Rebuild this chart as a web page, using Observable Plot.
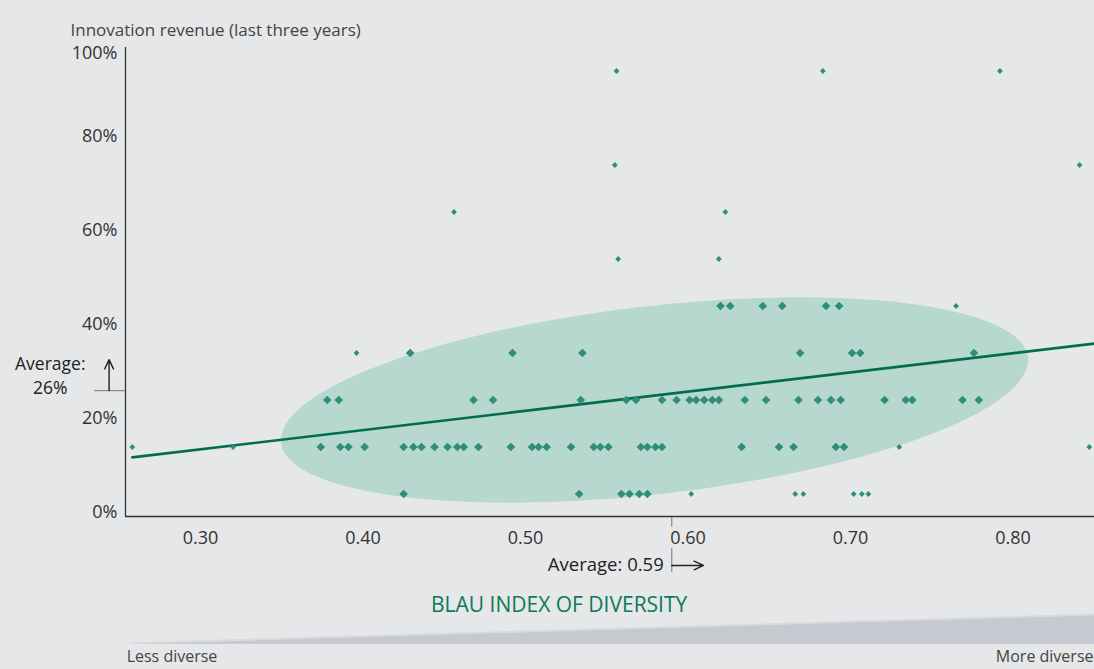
<!DOCTYPE html>
<html>
<head>
<meta charset="utf-8">
<script src="https://cdn.jsdelivr.net/npm/d3@7"></script>
<script src="https://cdn.jsdelivr.net/npm/@observablehq/plot@0.6"></script>
<style>
  html, body { margin: 0; padding: 0; background: #e6e7e9; }
  #chart svg { display: block; }
</style>
</head>
<body>
<div id="chart"></div>
<script>
// ---- data ----
const title = "Innovation revenue (last three years)";
const xLabel = "BLAU INDEX OF DIVERSITY";
const xTicks = [0.30, 0.40, 0.50, 0.60, 0.70, 0.80];
const yTicks = [0, 20, 40, 60, 80, 100];
const xDomain = [0.2538, 0.8502];

// large diamonds (inside the highlighted cluster), one array per revenue level
const large05 = [0.425, 0.533, 0.559, 0.564, 0.570, 0.575];
const large15 = [0.374, 0.386, 0.391, 0.401, 0.425, 0.431, 0.436, 0.444, 0.452, 0.458, 0.462, 0.471,
                 0.491, 0.504, 0.508, 0.513, 0.528, 0.542, 0.546, 0.551, 0.571, 0.575, 0.580, 0.584,
                 0.633, 0.656, 0.665, 0.691, 0.696];
const large25 = [0.378, 0.385, 0.468, 0.480, 0.534, 0.562, 0.568, 0.584, 0.593, 0.601, 0.605, 0.610,
                 0.615, 0.619, 0.635, 0.648, 0.668, 0.680, 0.688, 0.694, 0.721, 0.734, 0.738, 0.769, 0.779];
const large35 = [0.429, 0.492, 0.535, 0.669, 0.701, 0.706, 0.776];
const large45 = [0.620, 0.626, 0.646, 0.658, 0.685, 0.693];

// small diamonds (outliers)
const smallX = [0.258, 0.320, 0.396, 0.456, 0.555, 0.556, 0.557, 0.602, 0.619, 0.623, 0.666, 0.671,
                0.683, 0.702, 0.707, 0.711, 0.730, 0.765, 0.792, 0.841, 0.847];
const smallY = [15, 15, 35, 65, 75, 95, 55, 5, 55, 65, 5, 5,
                95, 5, 5, 5, 15, 45, 95, 75, 15];

// trend line end points
const trendX = [0.258, 0.8502];
const trendY = [12.8, 37.0];

// averages
const avgX = 0.59;
const avgY = 27;          // where the marker sits in the picture
const avgYLabel = "Average:\n26%";

// highlighted cluster ellipse: centre and two conjugate semi-axis vectors (data units)
const ellCenter = [0.5794, 25.0];
const ellMajor = [0.2299, 9.06];
const ellMinor = [0.00655, -19.87];

// ---- derived tables ----
const largePts = [
  ...large05.map(x => ({x, y: 5})),
  ...large15.map(x => ({x, y: 15})),
  ...large25.map(x => ({x, y: 25})),
  ...large35.map(x => ({x, y: 35})),
  ...large45.map(x => ({x, y: 45}))
];
const smallPts = smallX.map((x, i) => ({x, y: smallY[i]}));
const trend = trendX.map((x, i) => ({x, y: trendY[i]}));
const ellipse = d3.range(0, 2 * Math.PI, Math.PI / 90).map(t => ({
  x: ellCenter[0] + ellMajor[0] * Math.cos(t) + ellMinor[0] * Math.sin(t),
  y: ellCenter[1] + ellMajor[1] * Math.cos(t) + ellMinor[1] * Math.sin(t)
}));

const green = "#2f8e77";
const font = "'Open Sans', sans-serif";

const chart = Plot.plot({
  width: 1094,
  height: 669,
  marginLeft: 125,
  marginRight: 0,
  marginTop: 47,
  marginBottom: 152,
  style: {background: "#e6e7e9", fontFamily: font, color: "#333", overflow: "hidden"},
  x: {domain: xDomain},
  y: {domain: [0, 100]},
  marks: [
    // cluster ellipse
    Plot.line(ellipse, {x: "x", y: "y", curve: "linear-closed", fill: "#b7d8cf", stroke: "none"}),

    // bottom wedge "less diverse -> more diverse"
    Plot.areaY([{x: 0.2569, y1: -27.0, y2: -27.0}, {x: 0.8502, y1: -27.0, y2: -20.9}],
      {x: "x", y1: "y1", y2: "y2", fill: "#c6cad0"}),
    Plot.line([{x: 0.2569, y: -26.7}, {x: 0.8502, y: -20.6}],
      {x: "x", y: "y", stroke: "#d6d9dd", strokeWidth: 1.5}),

    // axes
    Plot.axisX({ticks: xTicks, tickSize: 0, tickPadding: 14, tickFormat: d3.format(".2f"),
      label: null, fontSize: 18, fill: "#333"}),
    Plot.axisY({ticks: yTicks.filter(d => d < 100), tickSize: 0, tickPadding: 8,
      tickFormat: d => d + "%", label: null, fontSize: 18, dy: -5, fill: "#333"}),
    Plot.axisY({ticks: [100], tickSize: 0, tickPadding: 8,
      tickFormat: d => d + "%", label: null, fontSize: 18, dy: 6, fill: "#333"}),
    Plot.ruleX([xDomain[0]], {y1: 0, y2: 100, stroke: "#333", strokeWidth: 1.3}),
    Plot.ruleY([0], {x1: xDomain[0], x2: xDomain[1], stroke: "#333", strokeWidth: 1.3, dy: -1}),

    // trend line
    Plot.line(trend, {x: "x", y: "y", stroke: "#006e4d", strokeWidth: 2.6}),

    // points
    Plot.dot(smallPts, {x: "x", y: "y", symbol: "diamond2", r: 2.6, fill: green, stroke: "none"}),
    Plot.dot(largePts, {x: "x", y: "y", symbol: "diamond2", r: 3.9, fill: green, stroke: "none"}),

    // title
    Plot.text([title], {frameAnchor: "top-left", dx: -55, dy: -24, textAnchor: "start",
      fontSize: 17, fill: "#444"}),

    // average on x
    Plot.ruleX([avgX], {y1: 0, y2: -2.1, stroke: "#8a8d92", strokeWidth: 1.3}),
    Plot.ruleX([avgX], {y1: -6.6, y2: -11.7, stroke: "#8a8d92", strokeWidth: 1.3}),
    Plot.arrow([{x1: avgX, x2: 0.6095, y: -10.2}], {x1: "x1", x2: "x2", y1: "y", y2: "y",
      stroke: "#222", strokeWidth: 1.4, headLength: 11, headAngle: 50}),
    Plot.text(["Average: 0.59"], {x: avgX, y: -10.1, dx: -8, textAnchor: "end",
      fontSize: 18.5, fill: "#222"}),

    // average on y
    Plot.ruleY([avgY], {x1: 0.2348, x2: xDomain[0], stroke: "#8a8d92", strokeWidth: 1.3}),
    Plot.arrow([{x: 0.2437, y1: avgY, y2: 33.6}], {x1: "x", x2: "x", y1: "y1", y2: "y2",
      stroke: "#222", strokeWidth: 1.4, headLength: 11, headAngle: 50}),
    Plot.text([avgYLabel], {x: 0.2075, y: 30.4, textAnchor: "middle", lineAnchor: "middle",
      lineHeight: 1.38, fontSize: 17.5, fill: "#222"}),

    // x label and ends of the diversity scale
    Plot.text([xLabel], {x: 0.5207, y: -18.7, textAnchor: "middle", fontSize: 21,
      fill: "#0b7a57", letterSpacing: "1px"}),
    Plot.text(["Less diverse"], {x: 0.2545, y: -29.7, textAnchor: "start", fontSize: 16, fill: "#444"}),
    Plot.text(["More diverse"], {frameAnchor: "right", y: -29.7, dx: -1, textAnchor: "end",
      fontSize: 16, fill: "#444"})
  ]
});

document.getElementById("chart").appendChild(chart);
</script>
</body>
</html>
